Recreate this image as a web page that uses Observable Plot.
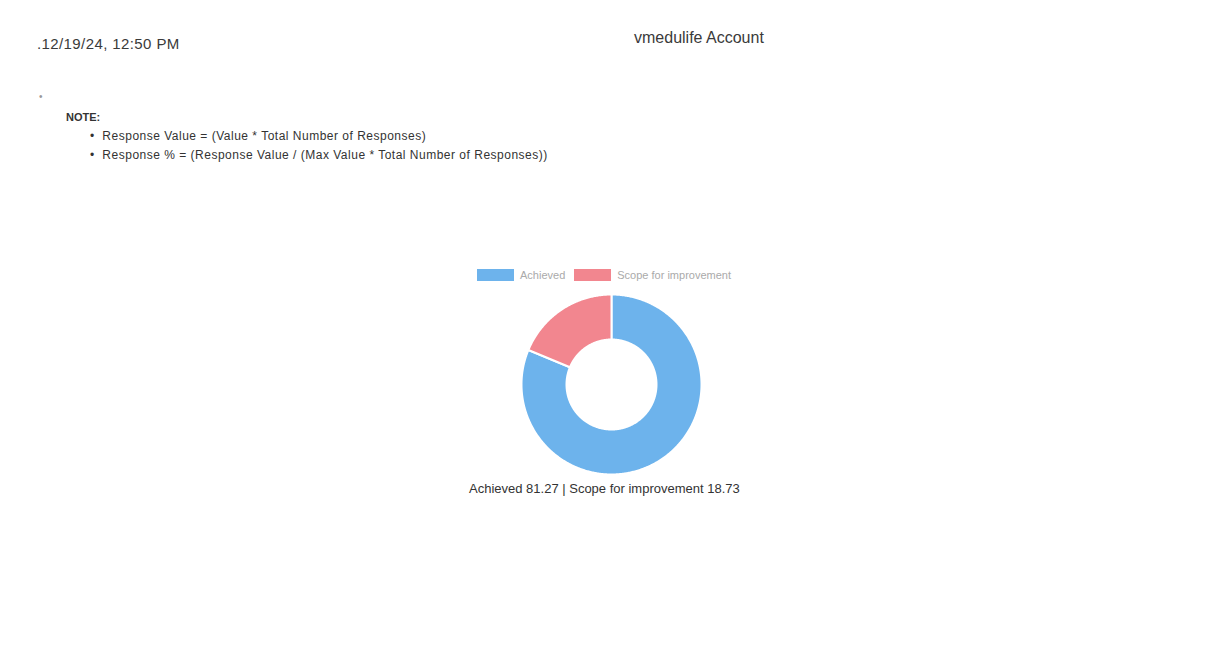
<!DOCTYPE html>
<html>
<head>
<meta charset="utf-8">
<script src="https://cdn.jsdelivr.net/npm/d3@7"></script>
<script src="https://cdn.jsdelivr.net/npm/@observablehq/plot@0.6"></script>
<style>
  html, body { margin: 0; padding: 0; background: #fff; width: 1205px; height: 655px; overflow: hidden; font-family: "Liberation Sans", Arial, sans-serif; }
  .abs { position: absolute; white-space: nowrap; }
  #date { left: 37px; top: 35px; font-size: 15px; letter-spacing: 0.4px; color: #3a3a3a; }
  #acct { left: 634px; top: 29px; font-size: 16px; color: #3a3a3a; }
  #dot { left: 39px; top: 91px; font-size: 10px; color: #999; }
  #note { left: 66px; top: 111px; font-size: 11px; font-weight: bold; color: #333; }
  .bul { left: 90px; font-size: 12px; letter-spacing: 0.5px; color: #333; }
  #legend { left: 477px; top: 269px; font-size: 11px; color: #aaa; display: flex; align-items: center; }
  .sw { display: inline-block; width: 37px; height: 12px; margin-right: 6px; }
  #chart { left: 511px; top: 284px; }
  #caption { left: 469px; top: 481px; font-size: 13px; color: #333; }
</style>
</head>
<body>
<div id="date" class="abs"></div>
<div id="acct" class="abs"></div>
<div id="dot" class="abs">•</div>
<div id="note" class="abs"></div>
<div id="b1" class="abs bul" style="top:129px"></div>
<div id="b2" class="abs bul" style="top:148px"></div>
<div id="legend" class="abs"></div>
<div id="chart" class="abs"></div>
<div id="caption" class="abs"></div>
<script>
const headerDate = ".12/19/24, 12:50 PM";
const headerTitle = "vmedulife Account";
const noteTitle = "NOTE:";
const noteLines = [
  "Response Value = (Value * Total Number of Responses)",
  "Response % = (Response Value / (Max Value * Total Number of Responses))"
];
const labels = ["Achieved", "Scope for improvement"];
const values = [81.27, 18.73];
const colors = ["#6db3ec", "#f2868f"];
const innerRatio = 0.5;

document.getElementById("date").textContent = headerDate;
document.getElementById("acct").textContent = headerTitle;
document.getElementById("note").textContent = noteTitle;
document.getElementById("b1").textContent = "•\u00a0\u00a0" + noteLines[0];
document.getElementById("b2").textContent = "•\u00a0\u00a0" + noteLines[1];

const leg = document.getElementById("legend");
labels.forEach((l, i) => {
  const sw = document.createElement("span");
  sw.className = "sw";
  sw.style.background = colors[i];
  if (i > 0) sw.style.marginLeft = "9px";
  leg.appendChild(sw);
  const t = document.createElement("span");
  t.textContent = l;
  leg.appendChild(t);
});

document.getElementById("caption").textContent =
  labels.map((l, i) => `${l} ${values[i].toFixed(2)}`).join(" | ");

// Build donut slice outlines from the pie layout of the values
const arcs = d3.pie().sort(null)(values);
const pts = [];
arcs.forEach((a, i) => {
  const n = Math.max(8, Math.ceil((a.endAngle - a.startAngle) / 0.01));
  const ring = [];
  for (let k = 0; k <= n; k++) {
    const t = a.startAngle + (a.endAngle - a.startAngle) * k / n;
    ring.push([Math.sin(t), Math.cos(t)]);
  }
  for (let k = n; k >= 0; k--) {
    const t = a.startAngle + (a.endAngle - a.startAngle) * k / n;
    ring.push([innerRatio * Math.sin(t), innerRatio * Math.cos(t)]);
  }
  ring.push(ring[0]);
  ring.forEach(([x, y]) => pts.push({label: labels[i], x, y}));
});

const plot = Plot.plot({
  width: 200,
  height: 200,
  margin: 10,
  x: {domain: [-1, 1], axis: null},
  y: {domain: [-1, 1], axis: null},
  color: {domain: labels, range: colors},
  marks: [
    Plot.line(pts, {x: "x", y: "y", z: "label", fill: "label", stroke: "#fff", strokeWidth: 2, curve: "linear"})
  ]
});
document.getElementById("chart").appendChild(plot);
</script>
</body>
</html>
